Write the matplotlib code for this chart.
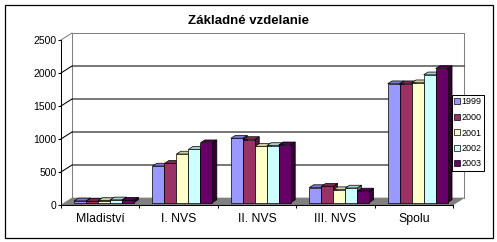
import matplotlib
matplotlib.use("Agg")
import matplotlib.pyplot as plt
from matplotlib.patches import Polygon, Rectangle, Patch
from matplotlib.lines import Line2D
import numpy as np

plt.rcParams['font.family'] = ['Liberation Sans', 'DejaVu Sans']

# ---- data ----
title = "Základné vzdelanie"
categories = ["Mladiství", "I. NVS", "II. NVS", "III. NVS", "Spolu"]
years = ["1999", "2000", "2001", "2002", "2003"]
v1999 = [25, 553, 974, 227, 1800]
v2000 = [20, 594, 955, 247, 1800]
v2001 = [30, 735, 850, 195, 1815]
v2002 = [40, 806, 864, 220, 1935]
v2003 = [35, 906, 875, 175, 2030]
series = [v1999, v2000, v2001, v2002, v2003]
colors = ["#9999FF", "#993366", "#FFFFCC", "#CCFFFF", "#660066"]
yticks = [0, 500, 1000, 1500, 2000, 2500]

# ---- layout ----
W, H = 497, 242
fig = plt.figure(figsize=(W / 100, H / 100), dpi=100)
ax_l, ax_r, ax_b, ax_t = 61, 453, 205, 40  # pixel coords (top-left origin)
ax = fig.add_axes([ax_l / W, (H - ax_b) / H, (ax_r - ax_l) / W, (ax_b - ax_t) / H])
ax.set_xlim(-0.5, len(categories) - 0.5)
ax.set_ylim(0, 2500)
ax.patch.set_alpha(0)

xu = (len(categories)) / (ax_r - ax_l)   # data units per pixel in x
yu = 2500 / (ax_b - ax_t)                # data units per pixel in y
DX, DY = 11, 7                            # depth offset in pixels


def P(x, y, d):
    return (x + d * DX * xu, y + d * DY * yu)


def shade(c, f):
    c = np.array(matplotlib.colors.to_rgb(c))
    return tuple(np.clip(c * f, 0, 1))


x0, x1 = -0.5, len(categories) - 0.5
lw = 0.75
# back wall outline (gray) and side wall
wall = "#808080"
ax.add_line(Line2D(*zip(P(x0, 0, 1), P(x0, 2500, 1), P(x1, 2500, 1), P(x1, 0, 1)),
                   color=wall, lw=lw, clip_on=False, zorder=1))
ax.add_line(Line2D(*zip(P(x0, 2500, 0), P(x0, 2500, 1)), color=wall, lw=lw,
                   clip_on=False, zorder=1))
# gridlines on back and side wall
for v in yticks[1:-1]:
    ax.add_line(Line2D(*zip(P(x0, v, 0), P(x0, v, 1), P(x1, v, 1)), color="black",
                       lw=lw, clip_on=False, zorder=1))
# floor
ax.add_patch(Polygon([P(x0, 0, 0), P(x1, 0, 0), P(x1, 0, 1), P(x0, 0, 1)],
                     closed=True, fc="#808080", ec="#808080", lw=0.5,
                     clip_on=False, zorder=2))

# bars
d0, d1 = 0.35, 0.75
w = 0.153
n = len(series)
for i in range(len(categories)):
    for j in range(n):
        h = series[j][i]
        xl = i + (j - n / 2) * w
        xr = xl + w
        c = colors[j]
        side = Polygon([P(xr, 0, d0), P(xr, 0, d1), P(xr, h, d1), P(xr, h, d0)],
                       closed=True, fc=shade(c, 0.5), ec="black", lw=0.5,
                       clip_on=False, zorder=3)
        top = Polygon([P(xl, h, d0), P(xr, h, d0), P(xr, h, d1), P(xl, h, d1)],
                      closed=True, fc=shade(c, 0.8), ec="black", lw=0.5,
                      clip_on=False, zorder=3)
        front = Polygon([P(xl, 0, d0), P(xr, 0, d0), P(xr, h, d0), P(xl, h, d0)],
                        closed=True, fc=c, ec="black", lw=0.5,
                        clip_on=False, zorder=3)
        ax.add_patch(side)
        ax.add_patch(top)
        ax.add_patch(front)

# axes styling
for s in ["top", "right"]:
    ax.spines[s].set_visible(False)
for s in ["left", "bottom"]:
    ax.spines[s].set_linewidth(lw)
    ax.spines[s].set_zorder(5)
ax.set_yticks(yticks)
ax.set_yticklabels([str(t) for t in yticks], fontsize=7.5)
ax.tick_params(axis="y", length=2.2, width=lw, pad=1)
ax.set_xticks(range(len(categories)))
ax.set_xticklabels(categories, fontsize=8.8)
ax.tick_params(axis="x", which="major", length=0, pad=6)
ax.set_xticks(np.arange(-0.5, len(categories)), minor=True)
ax.tick_params(axis="x", which="minor", length=2.5, width=lw)

# title
fig.text(249 / W, 1 - 21 / H, title, ha="center", va="center", fontsize=9.5,
         fontweight="bold")

# legend
handles = [Patch(fc=c, ec="black", lw=0.5) for c in colors]
leg = fig.legend(handles, years, loc="center left",
                 bbox_to_anchor=(452 / W, (H - 133) / H), frameon=True,
                 fancybox=False, edgecolor="black", framealpha=1, fontsize=6.5,
                 handlelength=0.6, handleheight=0.6, handletextpad=0.2,
                 labelspacing=0.72, borderpad=0.25, borderaxespad=0)
leg.get_frame().set_linewidth(lw)

# outer border
fig.add_artist(Rectangle((5 / W, 4.5 / H), 488 / W, 232.5 / H,
                         transform=fig.transFigure, fill=False, ec="black",
                         lw=0.9))

fig.savefig("out.png", dpi=100)
